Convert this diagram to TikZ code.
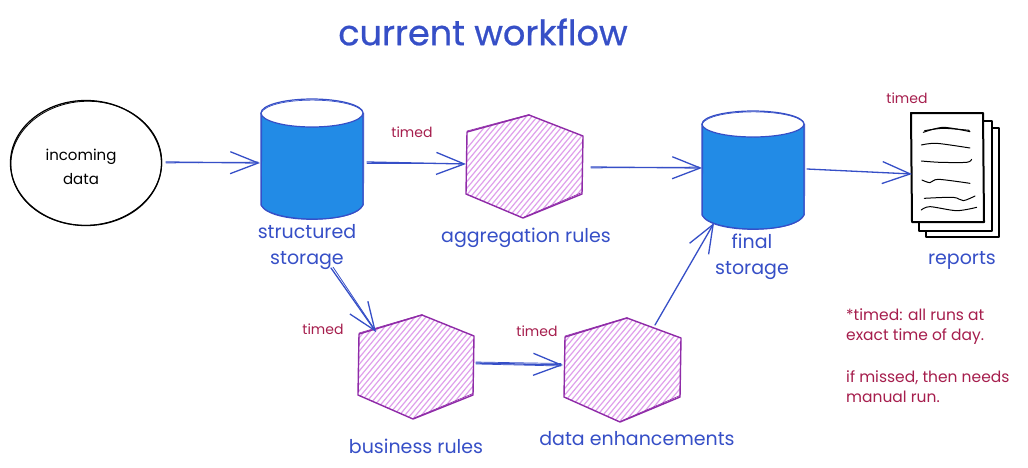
\documentclass[tikz,border=0pt]{standalone}
\usepackage{fontspec}
\setmainfont{Poppins}
\newfontfamily\titlefont[FakeBold=0.7]{Poppins}
\usetikzlibrary{arrows.meta,calc,shapes.geometric}
\definecolor{ink}{HTML}{364FC7}
\definecolor{cylblue}{HTML}{228BE6}
\definecolor{hexline}{HTML}{8F2BA8}
\definecolor{hatchc}{HTML}{DFA0EC}
\definecolor{note}{HTML}{A61E4D}
\tikzset{
  anchorbox/.style={draw=none,inner sep=0pt,outer sep=0pt,minimum width=#1},
  flow/.style={draw=ink,line width=1.3pt,line cap=round,-{Straight Barb[length=28pt,width=22pt,line width=1.3pt]}},
  flowghost/.style={draw=ink,line width=.7pt,line cap=round},
  cylline/.style={draw=ink,line width=1.2pt},
  hexedge/.style={draw=hexline,line width=1.4pt,line join=round},
  hatchline/.style={draw=hatchc,line width=1.2pt},
  label/.style={text=ink,font=\fontsize{19}{26}\selectfont,align=center,inner sep=0pt},
  titlelabel/.style={text=ink,font=\titlefont\fontsize{35}{40}\selectfont,inner sep=0pt},
  timedlabel/.style={text=note,font=\fontsize{14}{16}\selectfont,inner sep=0pt},
  notelabel/.style={text=note,font=\fontsize{15.5}{20.7}\selectfont,align=left,inner sep=0pt,anchor=north west},
  inklabel/.style={text=black,font=\fontsize{15}{24}\selectfont,align=center,inner sep=0pt},
  page/.style={draw=black,fill=white,line width=2pt,line join=round},
  scribble/.style={draw=black,line width=1pt,line cap=round},
}
% cylinder: left x, right x, top y of rim, rim centre y, side bottom y, lowest y
\newcommand{\cylshape}[6]{%
  \path[fill=cylblue] (#1,#4) -- (#1,#5) .. controls ({#1+9},{#6+5}) and ({#2-9},{#6+5}) .. (#2,#5) -- (#2,#4) -- cycle;
  \draw[cylline] (#1,#4) -- (#1,#5) .. controls ({#1+9},{#6+5}) and ({#2-9},{#6+5}) .. (#2,#5) -- (#2,#4);
  \draw[flowghost] ({#1+.8},{#4+2}) -- ({#1+.5},{#5+1}) .. controls ({#1+12},{#6+3.5}) and ({#2-6},{#6+6}) .. ({#2+.6},{#5-1}) -- ({#2+.8},#4);
  \draw[cylline,fill=white] ({(#1+#2)/2},#4) ellipse ({(#2-#1)/2} and {#4-#3});
  \draw[flowghost] (#1,#4) .. controls ({#1+8},{#3-3}) and ({#2-10},{#3-3}) .. (#2,{#4-1});
}
\newcommand{\hexshape}[6]{%
  \begin{scope}
    \clip #1 -- #2 -- #3 -- #4 -- #5 -- #6 -- cycle;
    \foreach \c in {200,205.5,...,1050} { \draw[hatchline] (\c,470) -- ({\c+390},0); }
  \end{scope}
  \draw[hexedge] #1 -- #2 -- #3 -- #4 -- #5 -- #6 -- cycle;
  \draw[hexedge,line width=.6pt] ($#1+(0,-1)$) -- ($#2+(.5,-.6)$);
  \draw[hexedge,line width=.6pt] ($#5+(1,-1)$) -- ($#4+(0,-1.5)$);
}
\begin{document}
\begin{tikzpicture}[x=1pt,y=-1pt]
\useasboundingbox[fill=white] (0,0) rectangle (1028,467);

% anchor boxes for shapes
\node[anchorbox=152pt,minimum height=126pt] (incoming) at (86,163) {};
\node[anchorbox=102pt,minimum height=120pt] (structured) at (312,159) {};
\node[anchorbox=117pt,minimum height=103pt] (aggregation) at (524.5,166.5) {};
\node[anchorbox=102pt,minimum height=118pt] (final) at (753,170) {};
\node[anchorbox=88pt,minimum height=124pt] (reports) at (955,175) {};
\node[anchorbox=116pt,minimum height=104pt] (business) at (416,367) {};
\node[anchorbox=117pt,minimum height=104pt] (enhance) at (622.5,370) {};

% incoming data
\draw[black,line width=1.3pt] (86,163) ellipse (75.5 and 62.5);
\draw[black,line width=.8pt,rotate around={3:(86,163)}] (86.3,163.3) ellipse (75.5 and 62);

% cylinders
\cylshape{261}{363}{99}{113}{205}{219}
\cylshape{702}{804}{111}{124}{215}{229}

% hexagons
\hexshape{(467,132)}{(529,115)}{(583,136)}{(582,194)}{(523,218)}{(466,194)}
\hexshape{(359,334)}{(422,315)}{(474,336)}{(473,395)}{(413,419)}{(358,395)}
\hexshape{(565,337)}{(627,318)}{(681,338)}{(680,397)}{(620,422)}{(564,397)}

% report pages
\draw[page] (926,128) rectangle (999,237);
\draw[page] (919,121) rectangle (992,231);
\draw[page] (911,113) -- (983,113) -- (984,222) -- (912,222) -- cycle;
\begin{scope}[shift={(680,80)},x=.3333pt,y=-.3333pt]
  \draw[scribble] plot[smooth] coordinates {(730,157) (790,142) (870,155)};
  \draw[scribble] plot[smooth] coordinates {(734,152) (790,145) (868,151)};
  \draw[scribble] plot[smooth] coordinates {(724,195) (770,190) (870,204)};
  \draw[scribble] plot[smooth] coordinates {(724,243) (780,247) (860,247) (875,238)};
  \draw[scribble] plot[smooth] coordinates {(726,300) (750,308) (775,298) (870,310)};
  \draw[scribble] plot[smooth] coordinates {(733,355) (820,352) (850,362) (885,348)};
  \draw[scribble] plot[smooth] coordinates {(724,390) (750,380) (830,392) (890,382)};
\end{scope}

% connectors
\draw[flow] ($(incoming.east)+(4,-1)$) -- ($(structured.west)+(-1,4)$);
\draw[flowghost] ($(incoming.east)+(4,0)$) -- ($(structured.west)+(-3,3)$);
\draw[flow] ($(structured.east)+(4,3)$) -- ($(aggregation.west)+(0,-2.5)$);
\draw[flowghost] ($(structured.east)+(4,4)$) -- ($(aggregation.west)+(-3,-3.5)$);
\draw[flow] ($(aggregation.east)+(8,.5)$) -- ($(final.west)+(0,-2)$);
\draw[flowghost] ($(aggregation.east)+(8,1.5)$) -- ($(final.west)+(-3,-3)$);
\draw[flow] ($(final.east)+(3,-1)$) -- ($(reports.west)+(1,-1)$);
\draw[flow] ($(structured.south)+(19,49)$) -- ($(business.north)+(-40,17)$);
\draw[flowghost] ($(structured.south)+(21,48)$) -- ($(business.north)+(-41,15)$);
\draw[flow] ($(business.east)+(2,-4)$) -- ($(enhance.west)+(-1,-5)$);
\draw[flowghost] ($(business.east)+(2,-3)$) -- ($(enhance.west)+(-3,-4)$);
\draw[flowghost] ($(business.east)+(2,-5)$) -- ($(enhance.west)+(-3,-6.5)$);
\draw[flow] ($(enhance.north)+(32.5,7)$) -- ($(final.south)+(-39,-6)$);

% texts
\node[titlelabel] (title) at (483,32) {current workflow};
\node[inklabel] (incomingtext) at (81,167) {incoming\\data};
\node[label] (structuredtext) at (307,247) {structured\\storage};
\node[label] (aggregationtext) at (526,237.5) {aggregation rules};
\node[label] (finaltext) at (752,257) {final\\storage};
\node[label] (reportstext) at (962,260) {reports};
\node[label] (businesstext) at (416,446) {business rules};
\node[label] (enhancetext) at (637,439) {data enhancements};
\node[timedlabel] (timeda) at (412,132) {timed};
\node[timedlabel] (timedb) at (907,98) {timed};
\node[timedlabel] (timedc) at (323,329) {timed};
\node[timedlabel] (timedd) at (537,331) {timed};
\node[notelabel] (notetext) at (846,308) {*timed: all runs at\\exact time of day.\\[20.7pt]if missed, then needs\\manual run.};
\end{tikzpicture}
\end{document}
